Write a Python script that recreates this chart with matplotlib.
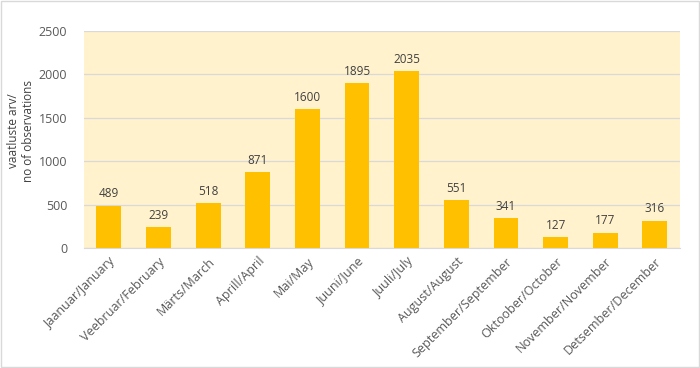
import matplotlib
matplotlib.use('Agg')
import matplotlib.pyplot as plt
from matplotlib.patches import Rectangle

months = ['Jaanuar/January', 'Veebruar/February', 'Märts/March', 'Aprill/April',
          'Mai/May', 'Juuni/June', 'Juuli/July', 'August/August',
          'September/September', 'Oktoober/October', 'November/November',
          'Detsember/December']
counts = [489, 239, 518, 871, 1600, 1895, 2035, 551, 341, 127, 177, 316]
yticks = [0, 500, 1000, 1500, 2000, 2500]

plt.rcParams['font.family'] = ['Open Sans', 'DejaVu Sans']
txt = '#595959'

fig = plt.figure(figsize=(7, 3.68), dpi=100)
ax = fig.add_axes([0.12, 0.326, 0.851, 0.59])
ax.set_facecolor('#FFF2CC')

x = range(len(months))
ax.bar(x, counts, width=0.5, color='#FFC000', zorder=3)
for i, v in zip(x, counts):
    ax.text(i, v + 60, str(v), ha='center', va='bottom', fontsize=8.5, color='#404040', zorder=4)

ax.set_xlim(-0.5, len(months) - 0.5)
ax.set_ylim(0, 2500)
ax.set_yticks(yticks)
ax.set_yticklabels([str(t) for t in yticks], fontsize=9, color=txt)
ax.yaxis.grid(True, color='#D9D9D9', linewidth=0.9, zorder=0)
ax.set_xticks(list(x))
ax.set_xticklabels(months, rotation=45, ha='right', rotation_mode='anchor', fontsize=9, color=txt)
ax.tick_params(axis='x', length=0, pad=5)
ax.tick_params(axis='y', length=0, pad=12)
for s in ['top', 'right', 'left']:
    ax.spines[s].set_visible(False)
ax.spines['bottom'].set_color('#D9D9D9')
ax.set_ylabel('vaatluste arv/\nno of observations', fontsize=8.5, color='#404040')
ax.yaxis.set_label_coords(-0.083, 0.54)

fig.patches.append(Rectangle((0.001, 0.002), 0.997, 0.995, transform=fig.transFigure,
                             fill=False, edgecolor='#D9D9D9', linewidth=1))

fig.savefig('out.png', dpi=100)
